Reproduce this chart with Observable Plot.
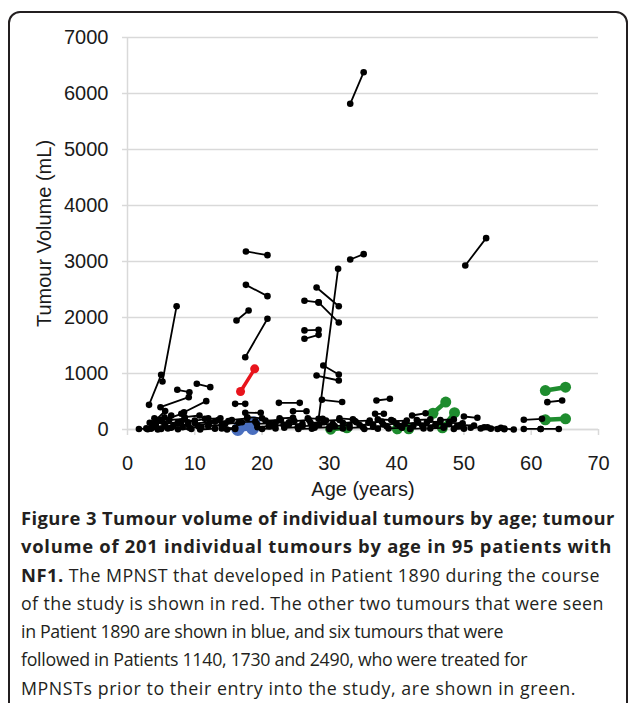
<!DOCTYPE html>
<html>
<head>
<meta charset="utf-8">
<script src="https://cdn.jsdelivr.net/npm/d3@7"></script>
<script src="https://cdn.jsdelivr.net/npm/@observablehq/plot@0.6"></script>
<style>
  html, body { margin: 0; padding: 0; background: #fff; overflow: hidden; }
  #wrap { position: relative; width: 629px; height: 703px; overflow: hidden; }
  #frame { position: absolute; left: 8px; top: 11px; width: 620px; height: 760px;
           border: 2px solid #231f20; border-radius: 12px; box-sizing: border-box; }
  #chart { position: absolute; left: 0; top: 0; }
  #caption { position: absolute; left: 21px; top: 504px; font-family: "Open Sans", sans-serif;
             font-size: 17.8px; line-height: 28.3px; color: #231f20; white-space: nowrap; }
  #caption div { display: block; }
  #caption b { font-weight: 700; font-size: 18.4px; }
</style>
</head>
<body>
<div id="wrap">
  <div id="frame"></div>
  <div id="chart"></div>
  <div id="caption"></div>
</div>
<script>
// Each tumour: [ageStart, volumeStart (mL), ageEnd, volumeEnd (mL)]
const blackTumours = [
  [33.1, 5816, 35.1, 6380],
  [17.6, 3179, 20.8, 3113],
  [17.6, 2583, 20.8, 2381],
  [33.1, 3036, 35.1, 3131],
  [50.2, 2929, 53.3, 3417],
  [28.4, 190, 31.3, 2869],
  [28.1, 2536, 31.4, 2200],
  [26.3, 2300, 28.4, 2270],
  [28.4, 2270, 31.4, 1910],
  [16.2, 1946, 18.0, 2125],
  [17.5, 1291, 20.8, 1977],
  [26.3, 1770, 28.4, 1780],
  [26.3, 1620, 28.4, 1690],
  [29.1, 1143, 31.4, 982],
  [28.1, 964, 31.4, 875],
  [28.9, 530, 31.9, 490],
  [3.2, 440, 5.0, 976],
  [5.2, 857, 7.3, 2202],
  [7.4, 709, 9.2, 666],
  [10.3, 816, 12.3, 756],
  [4.9, 398, 9.1, 577],
  [8.4, 309, 11.7, 506],
  [16.0, 458, 17.5, 458],
  [22.5, 476, 25.6, 476],
  [24.6, 327, 26.6, 327],
  [17.5, 300, 19.8, 298],
  [37.0, 518, 39.0, 548],
  [36.8, 280, 38.1, 280],
  [42.3, 250, 44.3, 290],
  [50.0, 232, 52.0, 209],
  [58.9, 173, 61.6, 191],
  [62.4, 488, 64.6, 518],
  [58.9, 10, 61.4, 10],
  [61.4, 10, 64.1, 10],
  [3.6, 100, 5.6, 330],
  [4.2, 80, 6.5, 250],
  [5.0, 150, 8.0, 280],
  [9.0, 130, 12.0, 200],
  [10.5, 60, 13.5, 170],
  [1.7, 10, 3.5, 15], [2.8, 20, 4.2, 60], [3.0, 5, 5.0, 10], [3.3, 120, 4.5, 170],
  [3.8, 40, 5.6, 70], [4.0, 200, 5.5, 220], [4.5, 0, 6.5, 30],
  [5.5, 100, 7.5, 130], [6.0, 20, 8.2, 40], [6.2, 170, 8.5, 190], [6.8, 60, 9.0, 90],
  [7.5, 5, 9.5, 10], [8.0, 140, 10.0, 160], [8.5, 220, 10.7, 250], [9.2, 30, 11.0, 50],
  [10.0, 110, 12.2, 130], [10.8, 0, 13.0, 15], [11.5, 190, 13.8, 200], [12.0, 60, 14.0, 80],
  [13.0, 140, 15.0, 150], [14.0, 20, 16.0, 30], [14.5, 100, 16.5, 120],
  [14.8, 0, 16.0, 10], [15.5, 170, 17.8, 200], [17.0, 130, 19.0, 140],
  [17.8, 220, 20.0, 200], [19.3, 40, 21.0, 60], [19.2, 100, 21.2, 110],
  [20.0, 10, 22.0, 20], [20.5, 160, 22.8, 170], [21.2, 60, 23.2, 80], [22.0, 120, 24.0, 130],
  [22.6, 200, 24.6, 210], [23.3, 30, 25.3, 40], [24.0, 90, 26.0, 100],
  [24.8, 150, 27.0, 170], [25.4, 10, 27.4, 15], [26.0, 60, 28.0, 70], [26.8, 200, 29.0, 190],
  [27.2, 120, 29.2, 130], [27.8, 30, 30.0, 40], [28.5, 90, 30.5, 100], [29.5, 160, 31.5, 170],
  [30.0, 10, 32.0, 20], [30.8, 60, 33.0, 80], [31.5, 200, 33.5, 180], [32.0, 120, 34.0, 130],
  [33.0, 30, 35.0, 40], [33.8, 150, 36.0, 160], [34.5, 80, 36.5, 90],
  [35.2, 10, 37.2, 15], [35.8, 120, 37.8, 140], [36.5, 50, 38.5, 60], [37.2, 180, 39.2, 170],
  [38.0, 90, 40.0, 100], [38.8, 20, 40.8, 30],
  [39.5, 150, 41.5, 160], [40.5, 60, 42.5, 70], [41.2, 110, 43.2, 120], [42.0, 10, 44.0, 20],
  [43.0, 170, 45.0, 180], [43.8, 70, 45.8, 80], [44.5, 130, 46.5, 140],
  [45.0, 20, 47.0, 30], [45.8, 90, 47.8, 100], [46.5, 170, 48.5, 180], [47.0, 50, 49.0, 60],
  [47.8, 120, 49.8, 110], [48.5, 10, 50.0, 15],
  [49.5, 80, 51.5, 70], [51.0, 30, 53.0, 40], [52.5, 20, 54.0, 15], [53.5, 40, 55.5, 30],
  [55.0, 10, 56.0, 5], [56.0, 15, 57.4, 0]
];
const redTumours = [
  [16.8, 679, 18.9, 1083]
];
const blueTumours = [
  [16.8, 60, 18.8, 120],
  [16.4, 0, 18.6, 20]
];
const greenTumours = [
  [30.2, 5, 32.6, 30],
  [40.1, 12, 41.8, 12],
  [45.4, 290, 47.3, 490],
  [46.8, 30, 48.6, 300],
  [62.1, 696, 65.1, 756],
  [62.1, 173, 65.1, 191]
];
const xTicks = [0, 10, 20, 30, 40, 50, 60, 70];
const yTicks = [0, 1000, 2000, 3000, 4000, 5000, 6000, 7000];
const captionLines = [
  ["Figure 3 Tumour volume of individual tumours by age; tumour", ""],
  ["volume of 201 individual tumours by age in 95 patients with", ""],
  ["NF1.", " The MPNST that developed in Patient 1890 during the course"],
  ["", "of the study is shown in red. The other two tumours that were seen"],
  ["", "in Patient 1890 are shown in blue, and six tumours that were"],
  ["", "followed in Patients 1140, 1730 and 2490, who were treated for"],
  ["", "MPNSTs prior to their entry into the study, are shown in green."]
];
// layout: width each caption line occupies in the reference
const captionWidths = [594, 591, 579, 583, 482, 506, 555];

function toRows(list, group) {
  const rows = [];
  list.forEach((t, i) => {
    rows.push({id: group + i, group, age: t[0], vol: t[1]});
    rows.push({id: group + i, group, age: t[2], vol: t[3]});
  });
  return rows;
}
const black = toRows(blackTumours, "black");
const red = toRows(redTumours, "red");
const blue = toRows(blueTumours, "blue");
const green = toRows(greenTumours, "green");

const chart = Plot.plot({
  width: 629,
  height: 505,
  marginLeft: 127,
  marginRight: 31,
  marginTop: 37,
  marginBottom: 76,
  style: {fontFamily: "'Liberation Sans', Arial, sans-serif", fontSize: "20px", color: "#1a1a1a", background: "transparent"},
  x: {domain: [0, 70]},
  y: {domain: [0, 7000]},
  marks: [
    Plot.gridY(yTicks, {stroke: "#d9d9d9", strokeOpacity: 1, strokeWidth: 1.5}),
    Plot.ruleX([0], {stroke: "#d9d9d9", strokeWidth: 1.5}),
    Plot.axisY(yTicks, {tickSize: 5, tickPadding: 14, stroke: "#d9d9d9", strokeWidth: 1.5,
      tickFormat: d3.format("d"), label: "Tumour Volume (mL)", labelAnchor: "center",
      labelArrow: "none", labelOffset: 91, fill: "#1a1a1a"}),
    Plot.ruleY([0], {stroke: "#d9d9d9", strokeWidth: 1.5}),
    Plot.axisX(xTicks, {tickSize: 6, tickPadding: 20, stroke: "#d9d9d9", strokeWidth: 1.5,
      label: "Age (years)", labelAnchor: "center", labelArrow: "none", labelOffset: 66, fill: "#1a1a1a"}),
    Plot.line(green, {x: "age", y: "vol", z: "id", stroke: "#1e8c2e", strokeWidth: 4.5}),
    Plot.dot(green, {x: "age", y: "vol", r: 5.5, fill: "#1e8c2e"}),
    Plot.line(blue, {x: "age", y: "vol", z: "id", stroke: "#4a6fbf", strokeWidth: 4.5}),
    Plot.dot(blue, {x: "age", y: "vol", r: 6.5, fill: "#4a6fbf"}),
    Plot.line(black, {x: "age", y: "vol", z: "id", stroke: "#000", strokeWidth: 1.8}),
    Plot.dot(black, {x: "age", y: "vol", r: 3.3, fill: "#000"}),
    Plot.line(red, {x: "age", y: "vol", z: "id", stroke: "#e8141c", strokeWidth: 3.5}),
    Plot.dot(red, {x: "age", y: "vol", r: 4.5, fill: "#e8141c"})
  ]
});
document.getElementById("chart").appendChild(chart);

const cap = document.getElementById("caption");
captionLines.forEach(([b, t], i) => {
  const div = document.createElement("div");
  const span = document.createElement("span");
  if (b) { const el = document.createElement("b"); el.textContent = b; span.appendChild(el); }
  if (t) span.appendChild(document.createTextNode(t));
  div.appendChild(span);
  cap.appendChild(div);
  const natural = span.getBoundingClientRect().width;
  const chars = (b + t).length;
  const ls = (captionWidths[i] - natural) / chars;
  span.style.letterSpacing = Math.max(-1, Math.min(1.2, ls)).toFixed(2) + "px";
});
</script>
</body>
</html>
